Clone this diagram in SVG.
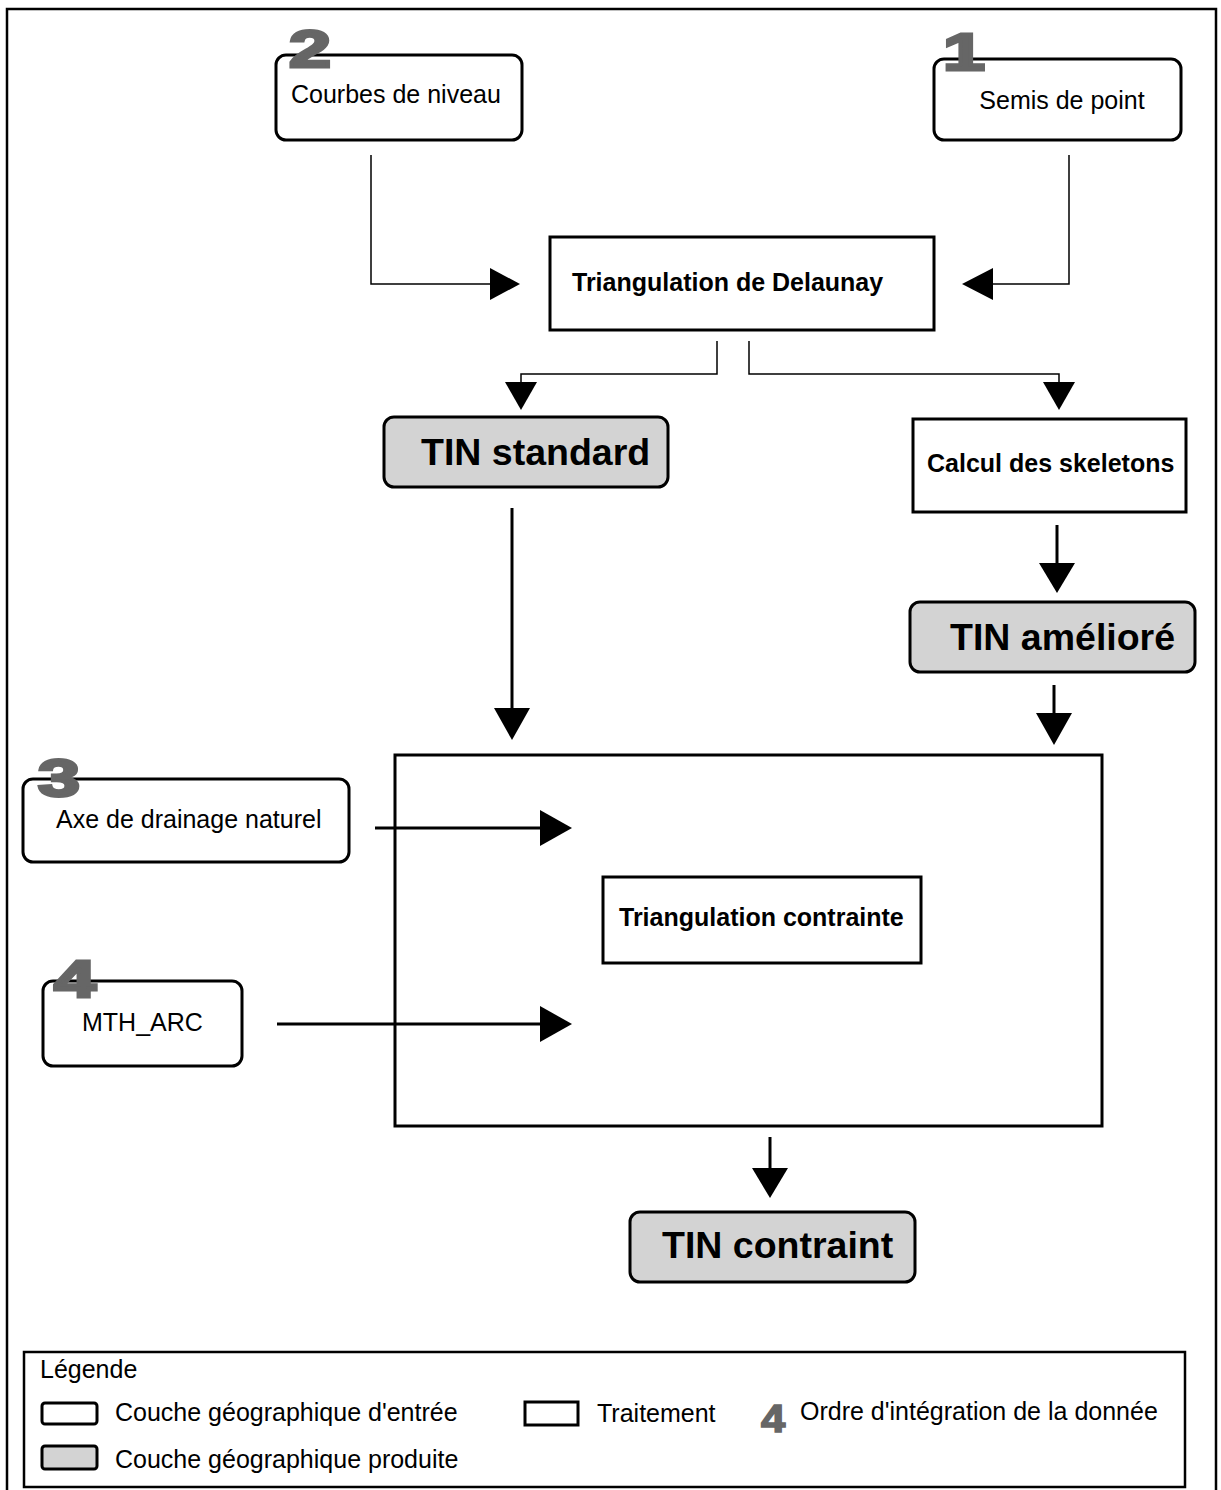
<svg xmlns="http://www.w3.org/2000/svg" width="1221" height="1490" viewBox="0 0 1221 1490">
<defs>
<style>
.in{fill:#fff;stroke:#000;stroke-width:3}
.out{fill:#d3d3d3;stroke:#000;stroke-width:3}
.proc{fill:#fff;stroke:#000;stroke-width:3}
.t{font-family:"Liberation Sans",Arial,sans-serif;font-size:25px;fill:#000}
.tb{font-family:"Liberation Sans",Arial,sans-serif;font-size:25px;font-weight:bold;fill:#000}
.big{font-family:"Liberation Sans",Arial,sans-serif;font-size:37.5px;font-weight:bold;fill:#000}
.num{font-family:"Liberation Sans",Arial,sans-serif;font-size:52px;font-weight:bold;fill:#666;stroke:#666;stroke-width:3}
.ln{fill:none;stroke:#000;stroke-width:1.5}
.lnb{fill:none;stroke:#000;stroke-width:3}
.ah{fill:#000}
</style>
</defs>
<rect x="0" y="0" width="1221" height="1490" fill="#fff"/>
<path d="M7,1492 V9 H1216 V1492" fill="none" stroke="#000" stroke-width="2.5"/>

<g id="n-courbes">
<rect class="in" x="276" y="55" width="246" height="85" rx="10"/>
<text class="t" x="291" y="103">Courbes de niveau</text>
<text class="num" transform="translate(289,67) scale(1.45,1)">2</text>
</g>

<g id="n-semis">
<rect class="in" x="934" y="59" width="247" height="81" rx="10"/>
<text class="t" x="1062" y="109" text-anchor="middle">Semis de point</text>
<text class="num" transform="translate(943,70) scale(1.45,1)">1</text>
</g>

<g id="n-delaunay">
<rect class="proc" x="550" y="237" width="384" height="93"/>
<text class="tb" x="572" y="291">Triangulation de Delaunay</text>
</g>

<g id="n-tinstandard">
<rect class="out" x="384" y="417" width="284" height="70" rx="10"/>
<text class="big" x="421" y="465">TIN standard</text>
</g>

<g id="n-skeletons">
<rect class="proc" x="913" y="419" width="273" height="93"/>
<text class="tb" x="927" y="472">Calcul des skeletons</text>
</g>

<g id="n-tinameliore">
<rect class="out" x="910" y="602" width="285" height="70" rx="10"/>
<text class="big" x="950" y="650">TIN amélioré</text>
</g>

<g id="n-container">
<rect class="proc" x="395" y="755" width="707" height="371"/>
</g>

<g id="n-contrainte">
<rect class="proc" x="603" y="877" width="318" height="86"/>
<text class="tb" x="619" y="926">Triangulation contrainte</text>
</g>

<g id="n-axe">
<rect class="in" x="23" y="779" width="326" height="83" rx="10"/>
<text class="t" x="56" y="828">Axe de drainage naturel</text>
<text class="num" transform="translate(38,796) scale(1.45,1)">3</text>
</g>

<g id="n-mth">
<rect class="in" x="43" y="981" width="199" height="85" rx="10"/>
<text class="t" x="82" y="1031">MTH_ARC</text>
<text class="num" transform="translate(54,997) scale(1.45,1)">4</text>
</g>

<g id="n-tincontraint">
<rect class="out" x="630" y="1212" width="285" height="70" rx="10"/>
<text class="big" x="662" y="1258">TIN contraint</text>
</g>

<g id="connectors">
<path class="ln" d="M371,155 V284 H492"/>
<polygon class="ah" points="490,268 520,284 490,300"/>
<path class="ln" d="M1069,155 V284 H990"/>
<polygon class="ah" points="993,268 962,284 993,300"/>
<path class="ln" d="M717,341 V374 H521 V384"/>
<polygon class="ah" points="505,382 537,382 521,410"/>
<path class="ln" d="M749,341 V374 H1059 V384"/>
<polygon class="ah" points="1043,382 1075,382 1059,410"/>
<path class="lnb" d="M1057,525 V567"/>
<polygon class="ah" points="1039,563 1075,563 1057,593"/>
<path class="lnb" d="M1054,685 V717"/>
<polygon class="ah" points="1036,713 1072,713 1054,745"/>
<path class="lnb" d="M512,508 V712"/>
<polygon class="ah" points="494,708 530,708 512,740"/>
<path class="lnb" d="M375,828 H542"/>
<polygon class="ah" points="540,810 572,828 540,846"/>
<path class="lnb" d="M277,1024 H542"/>
<polygon class="ah" points="540,1006 572,1024 540,1042"/>
<path class="lnb" d="M770,1137 V1172"/>
<polygon class="ah" points="752,1168 788,1168 770,1198"/>
</g>

<g id="legend">
<rect x="24" y="1352" width="1161" height="135" fill="#fff" stroke="#000" stroke-width="2.5"/>
<text class="t" x="40" y="1378">Légende</text>
<rect class="in" x="42" y="1403" width="55" height="21" rx="3"/>
<text class="t" x="115" y="1421">Couche géographique d'entrée</text>
<rect class="out" x="42" y="1446" width="55" height="23" rx="3"/>
<text class="t" x="115" y="1468">Couche géographique produite</text>
<rect class="proc" x="525" y="1402" width="53" height="23"/>
<text class="t" x="597" y="1422">Traitement</text>
<text class="num" transform="translate(761,1432) scale(1.15,1)" style="font-size:38px;stroke-width:1.5">4</text>
<text class="t" x="800" y="1420">Ordre d'intégration de la donnée</text>
</g>
</svg>
